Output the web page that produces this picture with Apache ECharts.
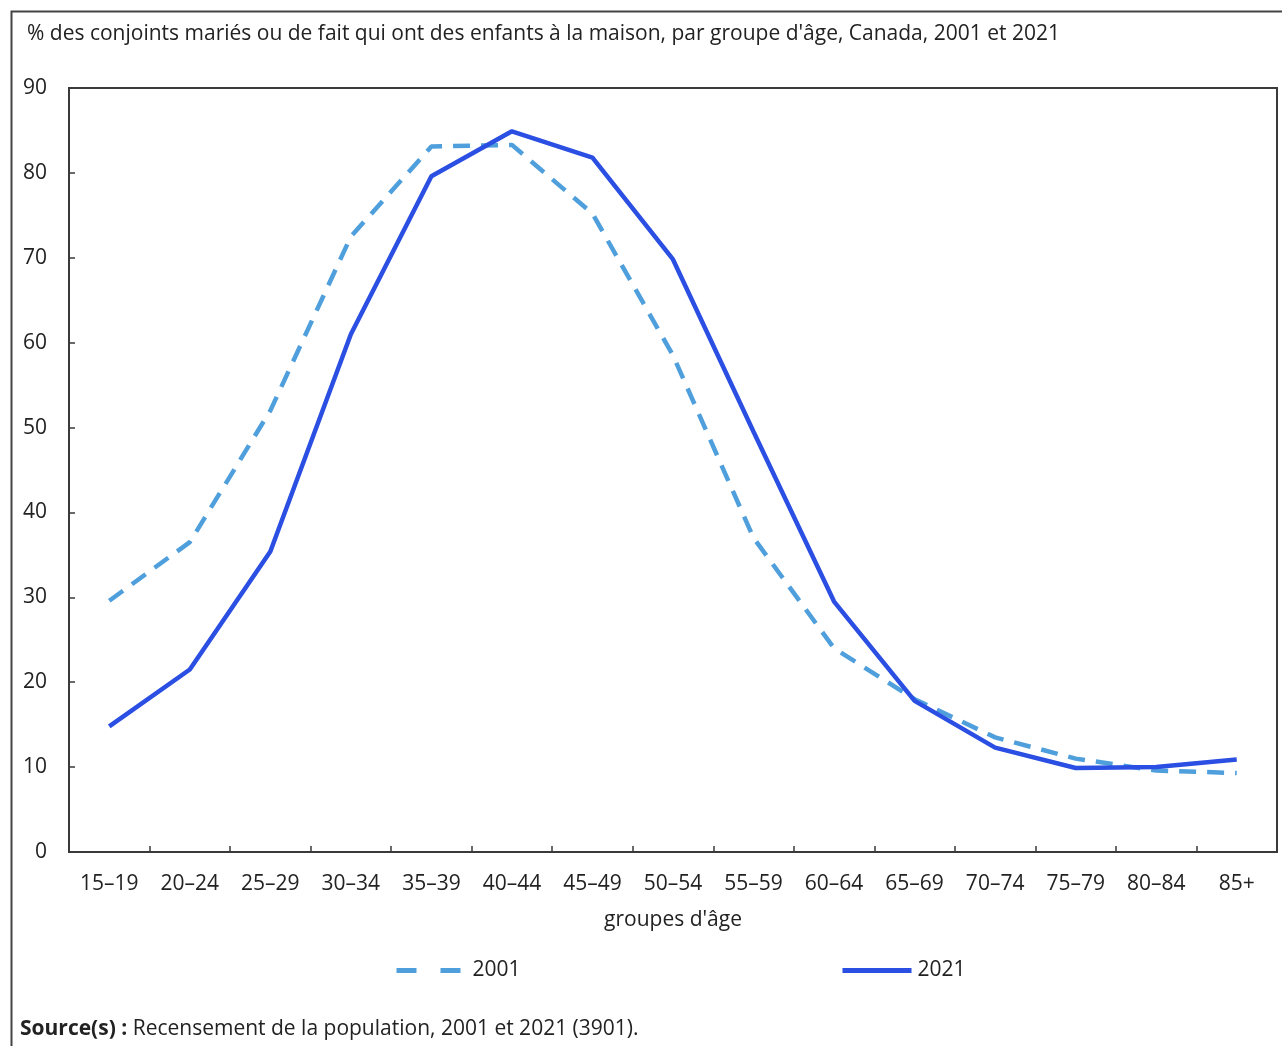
<!DOCTYPE html>
<html>
<head>
<meta charset="utf-8">
<script src="https://cdn.jsdelivr.net/npm/echarts@6/dist/echarts.min.js"></script>
<style>
html,body{margin:0;padding:0;background:#fff;}
#main{width:1282px;height:1046px;}
</style>
</head>
<body>
<div id="main"></div>
<script>
const categories = ['15–19','20–24','25–29','30–34','35–39','40–44','45–49','50–54','55–59','60–64','65–69','70–74','75–79','80–84','85+'];
const values2001 = [29.6, 36.5, 52.0, 72.5, 83.1, 83.3, 75.2, 58.5, 37.0, 24.0, 18.0, 13.5, 11.0, 9.6, 9.3];
const values2021 = [14.8, 21.5, 35.4, 61.0, 79.6, 84.9, 81.8, 69.8, 49.5, 29.5, 17.8, 12.3, 9.9, 10.0, 10.9];
const yTicks = [0, 10, 20, 30, 40, 50, 60, 70, 80, 90];
const titleText = "% des conjoints mariés ou de fait qui ont des enfants à la maison, par groupe d'âge, Canada, 2001 et 2021";
const xAxisName = "groupes d'âge";
const sourceLabel = 'Source(s) :';
const sourceText = ' Recensement de la population, 2001 et 2021 (3901).';

const FONT = '"Open Sans", "Noto Sans", sans-serif';
const FS = 21;
const TXT = '#222222';
const C2001 = '#4f9fdc';
const C2021 = '#2a4fe2';

const chart = echarts.init(document.getElementById('main'), null, {renderer: 'canvas'});
chart.setOption({
  backgroundColor: '#ffffff',
  animation: false,
  textStyle: {fontFamily: FONT},
  title: {
    text: titleText,
    left: 22, top: 19,
    textStyle: {fontFamily: FONT, fontSize: FS, fontWeight: 'normal', color: TXT}
  },
  graphic: [
    {type: 'rect', left: 9, top: 9, shape: {x: 0, y: 0, width: 1400, height: 1200}, style: {fill: 'none', stroke: '#444', lineWidth: 2}, silent: true, z: 100},
    {type: 'text', left: 20, top: 1019, style: {
      text: '{b|' + sourceLabel + '}' + sourceText,
      rich: {b: {fontWeight: 'bold', fontFamily: FONT, fontSize: FS, fill: TXT}},
      font: FS + 'px ' + FONT, fill: TXT
    }}
  ],
  legend: [
    {data: ['2001'], left: 389, top: 955, itemWidth: 65, itemHeight: 14, itemGap: 0,
     lineStyle: {type: [20, 24], width: 5, cap: 'butt'},
     itemStyle: {color: 'rgba(0,0,0,0)', borderWidth: 0},
     textStyle: {fontFamily: FONT, fontSize: FS, color: TXT, padding: [0,0,0,6]}},
    {data: ['2021'], left: 835, top: 955, itemWidth: 69, itemHeight: 14, itemGap: 0,
     lineStyle: {width: 5},
     itemStyle: {color: 'rgba(0,0,0,0)', borderWidth: 0},
     textStyle: {fontFamily: FONT, fontSize: FS, color: TXT, padding: [0,0,0,1]}}
  ],
  grid: {left: 69, right: 5, top: 88, bottom: 194, containLabel: false, show: true, borderColor: '#3a3a3a', borderWidth: 2, backgroundColor: 'transparent'},
  xAxis: {
    type: 'category',
    data: categories,
    boundaryGap: true,
    name: xAxisName,
    nameLocation: 'middle',
    nameGap: 58,
    nameTextStyle: {fontFamily: FONT, fontSize: FS, color: TXT},
    axisLine: {show: true, lineStyle: {color: '#3a3a3a', width: 2}},
    axisTick: {show: true, inside: true, length: 6, lineStyle: {color: '#3a3a3a', width: 1.5}},
    axisLabel: {fontFamily: FONT, fontSize: FS, color: TXT, margin: 22},
    splitLine: {show: false}
  },
  yAxis: {
    type: 'value',
    min: 0, max: 90, interval: 10,
    axisLine: {show: true, lineStyle: {color: '#3a3a3a', width: 2}},
    axisTick: {show: true, inside: true, length: 6, lineStyle: {color: '#3a3a3a', width: 1.5}},
    axisLabel: {fontFamily: FONT, fontSize: FS, color: TXT, margin: 22,
      formatter: function(v){ return yTicks.indexOf(v) >= 0 ? String(v) : ''; }},
    splitLine: {show: false}
  },
  series: [
    {name: '2001', type: 'line', data: values2001, symbol: 'none', smooth: false,
     lineStyle: {color: C2001, width: 4.5, type: [17, 11], cap: 'butt'}, itemStyle: {color: C2001}, z: 2},
    {name: '2021', type: 'line', data: values2021, symbol: 'none', smooth: false,
     lineStyle: {color: C2021, width: 4.5, type: 'solid'}, itemStyle: {color: C2021}, z: 3}
  ]
});
</script>
</body>
</html>
